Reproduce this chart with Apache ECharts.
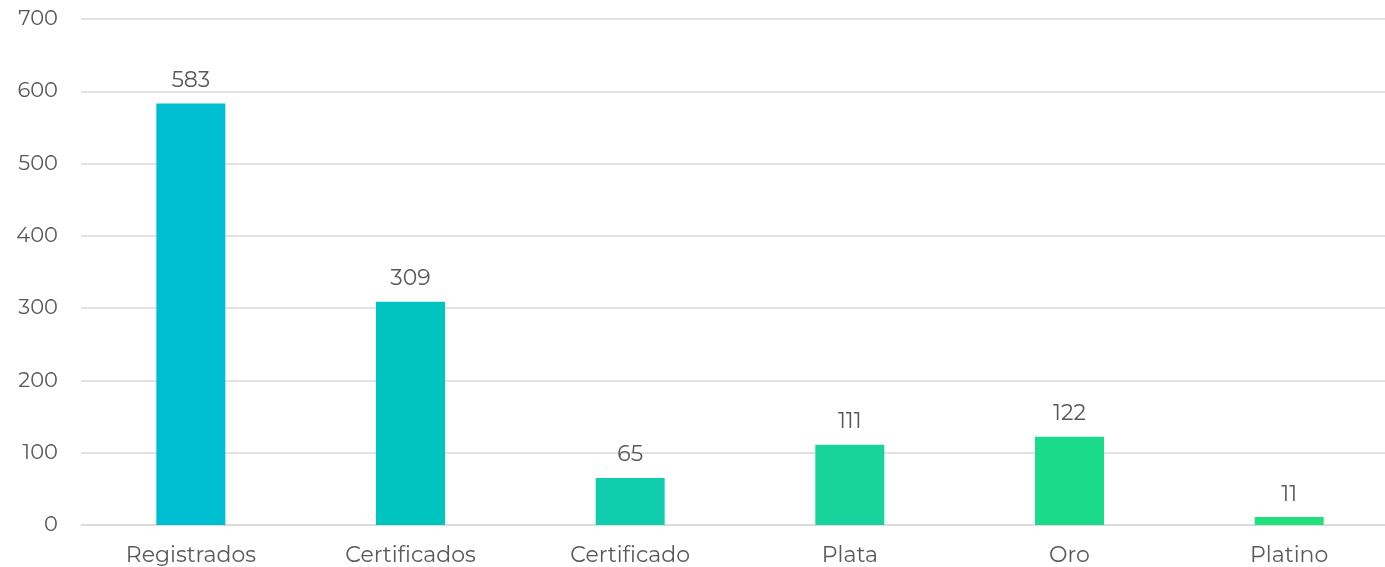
<!DOCTYPE html>
<html>
<head>
<meta charset="utf-8">
<script src="https://cdn.jsdelivr.net/npm/echarts@6/dist/echarts.min.js"></script>
<style>
  html, body { margin: 0; padding: 0; background: #ffffff; }
  #chart { width: 1385px; height: 567px; }
</style>
</head>
<body>
<div id="chart"></div>
<script>
// Categories and counts per level
const categories = ['Registrados', 'Certificados', 'Certificado', 'Plata', 'Oro', 'Platino'];
const values = [583, 309, 65, 111, 122, 11];
const barColors = ['#00bed2', '#00c4bf', '#10cdae', '#16d49c', '#1adb8a', '#1fe07a'];
const yTicks = { min: 0, max: 700, interval: 100 };

const font = 'Montserrat, "Open Sans", "Noto Sans", sans-serif';
const textColor = '#595959';

const chart = echarts.init(document.getElementById('chart'), null, { renderer: 'canvas' });
chart.setOption({
  animation: false,
  backgroundColor: '#ffffff',
  // plot area runs slightly past the right edge of the canvas
  grid: { left: 81, width: 1318, top: 19, bottom: 42, containLabel: false, outerBoundsMode: 'none' },
  xAxis: {
    type: 'category',
    data: categories,
    axisLine: { show: true, lineStyle: { color: '#d9d9d9', width: 1.5 } },
    axisTick: { show: false },
    axisLabel: { color: textColor, fontFamily: font, fontSize: 22, margin: 20 }
  },
  yAxis: {
    type: 'value',
    min: yTicks.min,
    max: yTicks.max,
    interval: yTicks.interval,
    axisLine: { show: false },
    axisTick: { show: false },
    splitLine: { lineStyle: { color: '#d9d9d9', width: 1.5 } },
    axisLabel: { color: textColor, fontFamily: font, fontSize: 21, margin: 23 }
  },
  series: [{
    type: 'bar',
    data: values.map((v, i) => ({ value: v, itemStyle: { color: barColors[i] } })),
    barWidth: 69,
    label: {
      show: true,
      position: 'top',
      distance: 12,
      color: textColor,
      fontFamily: font,
      fontSize: 22
    }
  }]
});
</script>
</body>
</html>
